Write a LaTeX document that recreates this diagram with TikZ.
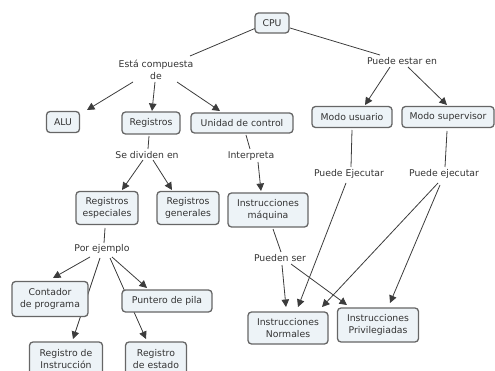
\documentclass[tikz,border=0pt]{standalone}
\usepackage{fontspec}
\setmainfont{DejaVu Sans}
\usetikzlibrary{calc,arrows.meta,backgrounds}
\definecolor{boxfill}{HTML}{EDF3F7}
\definecolor{boxline}{HTML}{666666}
\definecolor{conn}{HTML}{3C3C3C}
\tikzset{
  cbox/.style={draw=boxline,fill=boxfill,line width=1.3pt,rounded corners=3.5pt,align=center,inner sep=2pt,font=\fontsize{9.3}{12}\selectfont,text=black!80},
  clabel/.style={align=center,inner sep=1pt,font=\fontsize{9.3}{12}\selectfont,text=black!80},
  cline/.style={draw=conn,line width=0.8pt},
  carrow/.style={cline,-{Triangle[width=7.5pt,length=7.5pt]}}
}
\begin{document}
\begin{tikzpicture}[x=1pt,y=-1pt]
\useasboundingbox (0,0) rectangle (495,371);
\clip (0,0) rectangle (495,371);
% boxes
\node[cbox,minimum width=34pt,minimum height=20pt] (cpu) at (272,23) {CPU};
\node[cbox,minimum width=33pt,minimum height=21pt] (alu) at (63,122) {ALU};
\node[cbox,minimum width=58pt,minimum height=22pt] (reg) at (151,123) {Registros};
\node[cbox,minimum width=102pt,minimum height=20pt] (uc) at (242,123) {Unidad de control};
\node[cbox,minimum width=80pt,minimum height=21pt] (musr) at (352,117) {Modo usuario};
\node[cbox,minimum width=92pt,minimum height=21pt] (msup) at (448,117) {Modo supervisor};
\node[cbox,minimum width=62pt,minimum height=33pt] (resp) at (107,208) {Registros\\especiales};
\node[cbox,minimum width=62pt,minimum height=33pt] (rgen) at (188,208) {Registros\\generales};
\node[cbox,minimum width=80pt,minimum height=34pt] (imaq) at (268,210) {Instrucciones\\máquina};
\node[cbox,minimum width=76pt,minimum height=35pt] (cont) at (50,299) {Contador\\de programa};
\node[cbox,minimum width=90pt,minimum height=22pt] (punt) at (167,301) {Puntero de pila};
\node[cbox,minimum width=73pt,minimum height=34pt] (rins) at (66,359) {Registro de\\Instrucción};
\node[cbox,minimum width=61pt,minimum height=34pt] (rest) at (156,359) {Registro\\de estado};
\node[cbox,minimum width=80pt,minimum height=32pt] (inor) at (288,328) {Instrucciones\\Normales};
\node[cbox,minimum width=81pt,minimum height=34pt] (ipriv) at (378,325) {Instrucciones\\Privilegiadas};
% labels
\node[clabel] (compuesta) at (156,70) {Está compuesta\\de};
\node[clabel] (puede) at (402,61) {Puede estar en};
\node[clabel] (divide) at (147,155) {Se dividen en};
\node[clabel] (interp) at (251,156) {Interpreta};
\node[clabel] (pej1) at (349,174) {Puede Ejecutar};
\node[clabel] (pej2) at (444,174) {Puede ejecutar};
\node[clabel] (porej) at (102,249) {Por ejemplo};
\node[clabel] (pueden) at (280,258) {Pueden ser};
% connectors
\begin{scope}[on background layer]
\draw[cline] ($(cpu)+(-16,5)$) -- ($(compuesta)+(34,-14)$);
\draw[cline] ($(cpu)+(18,5)$) -- ($(puede)+(-22,-6)$);
\draw[carrow] ($(compuesta)+(-23,12)$) -- ($(alu)+(24,-12)$);
\draw[carrow] ($(compuesta)+(-1,12)$) -- ($(reg)+(1,-12)$);
\draw[carrow] ($(compuesta)+(21,12)$) -- ($(uc)+(-22,-12)$);
\draw[carrow] ($(puede)+(-12,6)$) -- ($(musr)+(13,-12)$);
\draw[carrow] ($(puede)+(6,6)$) -- ($(msup)+(-1,-12)$);
\draw[cline] ($(reg)+(-2,13)$) -- ($(divide)+(1,-6)$);
\draw[carrow] ($(divide)+(-4,5)$) -- ($(resp)+(15,-18)$);
\draw[carrow] ($(divide)+(6,5)$) -- ($(rgen)+(-16,-18)$);
\draw[cline] ($(uc)+(4,12)$) -- ($(interp)+(-1,-7)$);
\draw[carrow] ($(interp)+(7,6)$) -- ($(imaq)+(-7,-19)$);
\draw[cline] ($(musr)+(0,13)$) -- ($(pej1)+(2,-7)$);
\draw[cline] ($(msup)+(-1,14)$) -- ($(pej2)+(1,-7)$);
\draw[cline] ($(resp)+(-2,20)$) -- ($(porej)+(2,-6)$);
\draw[carrow] ($(porej)+(-12,8)$) -- ($(cont)+(3,-21)$);
\draw[carrow] ($(porej)+(-2,9)$) -- ($(rins)+(7,-20)$);
\draw[carrow] ($(porej)+(10,8)$) -- ($(punt)+(-20,-13)$);
\draw[carrow] ($(porej)+(8,9)$) -- ($(rest)+(-10,-20)$);
\draw[cline] ($(imaq)+(5,19)$) -- ($(pueden)+(1,-6)$);
\draw[carrow] ($(pueden)+(2,7)$) -- ($(inor)+(-2,-21)$);
\draw[carrow] ($(pueden)+(11,6)$) -- ($(ipriv)+(-31,-20)$);
\draw[carrow] ($(pej1)+(-3,9)$) -- ($(inor)+(10,-21)$);
\draw[carrow] ($(pej2)+(-6,9)$) -- ($(inor)+(34,-21)$);
\draw[carrow] ($(pej2)+(-4,11)$) -- ($(ipriv)+(12,-22)$);
\end{scope}
\end{tikzpicture}
\end{document}
